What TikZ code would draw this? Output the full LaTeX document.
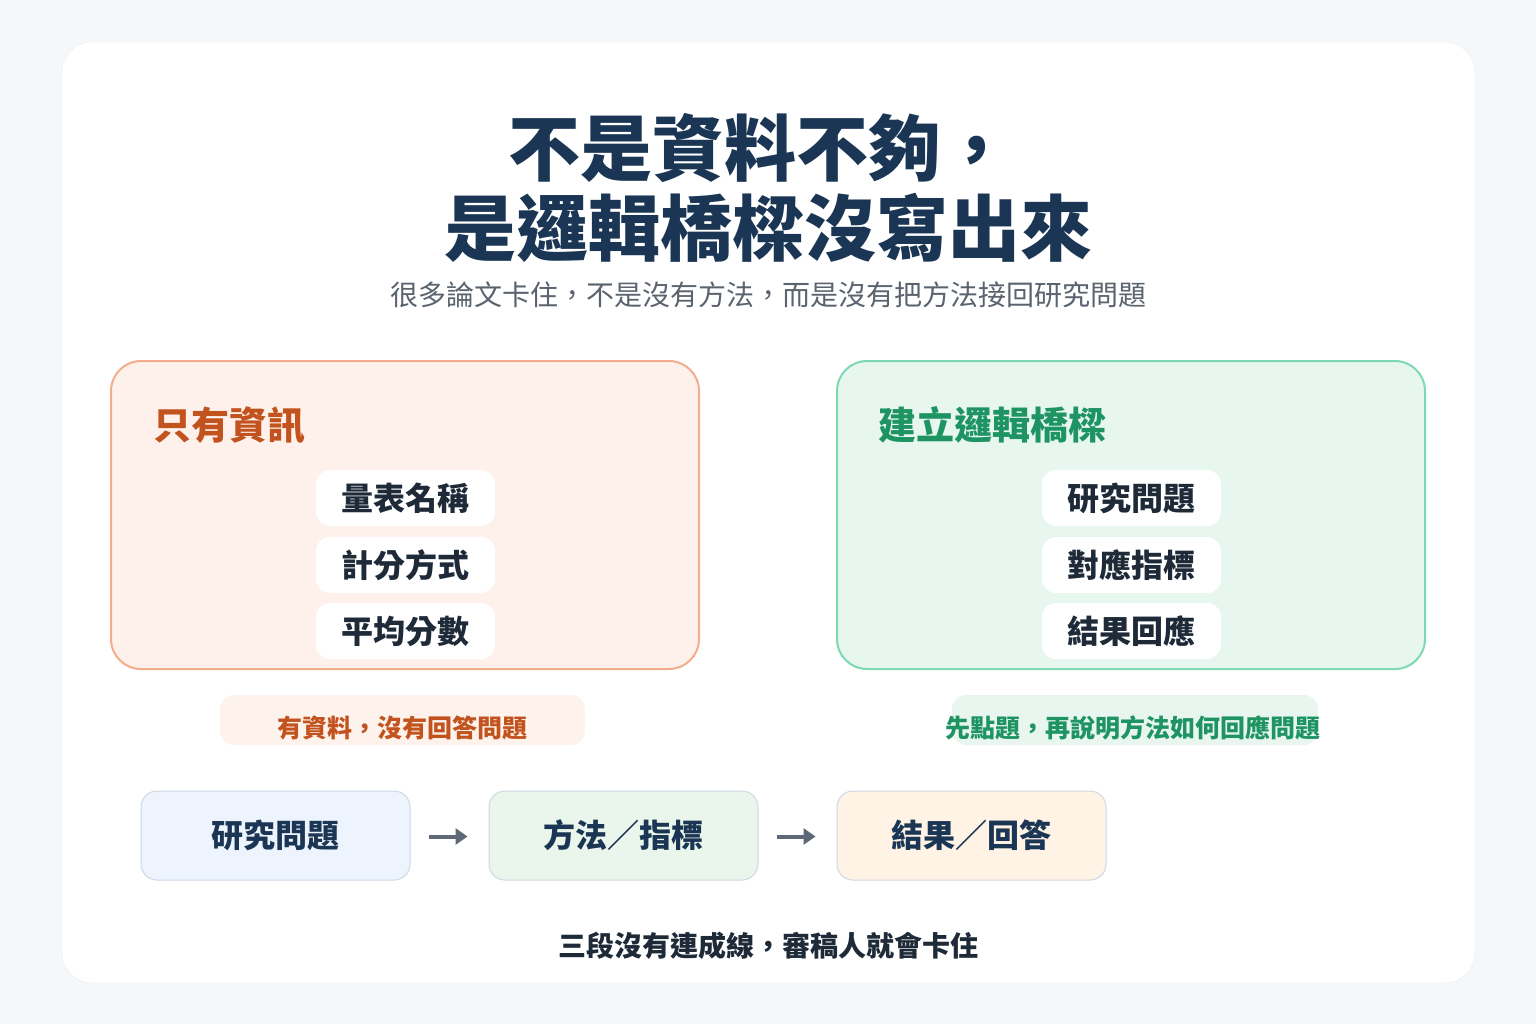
\documentclass[tikz,border=0pt]{standalone}
\usepackage{fontspec}
\setmainfont{Noto Sans CJK TC}
\usetikzlibrary{arrows.meta}
\definecolor{bg}{HTML}{F5F8FB}
\definecolor{navy}{HTML}{1B3654}
\definecolor{dark}{HTML}{1E2A38}
\definecolor{grayt}{HTML}{5A636E}
\definecolor{orng}{HTML}{C2531E}
\definecolor{grn}{HTML}{1E9463}
\definecolor{lfill}{HTML}{FEF1EC}
\definecolor{ldraw}{HTML}{F2AE8C}
\definecolor{rfill}{HTML}{E7F6EF}
\definecolor{rdraw}{HTML}{7DD9B3}
\definecolor{llab}{HTML}{FEF3EC}
\definecolor{rlab}{HTML}{E9F6EF}
\definecolor{fa}{HTML}{EDF4FD}
\definecolor{fb}{HTML}{EAF5EC}
\definecolor{fc}{HTML}{FEF3E5}
\definecolor{fbord}{HTML}{CDD8E4}
\definecolor{arrc}{HTML}{5F6876}
\tikzset{
  pill/.style={fill=white,rounded corners=14pt,minimum width=179pt,minimum height=56pt,inner sep=0pt,font=\fontsize{32}{36}\selectfont\bfseries,text=dark},
  flow/.style={draw=fbord,fill=#1,line width=1pt,rounded corners=16pt,minimum width=269pt,minimum height=89pt,inner sep=0pt,font=\fontsize{32}{36}\selectfont\bfseries,text=navy},
  arr/.style={-{Triangle[length=12pt,width=16pt]},line width=4pt,draw=arrc}
}
\begin{document}
\begin{tikzpicture}[x=1pt,y=-1pt]
\fill[bg] (0,0) rectangle (1536,1024);
\useasboundingbox (0,0) rectangle (1536,1024);
\draw[fill=white,draw=black!8,rounded corners=30pt] (62,42) rectangle (1475,983);
\node[font=\fontsize{72}{80}\selectfont\bfseries,text=navy] (t1) at (760,148) {不是資料不夠，};
\node[font=\fontsize{72}{80}\selectfont\bfseries,text=navy] (t2) at (768,228) {是邏輯橋樑沒寫出來};
\node[font=\fontsize{28}{32}\selectfont,text=grayt] (sub) at (768,295) {很多論文卡住，不是沒有方法，而是沒有把方法接回研究問題};
\draw[fill=lfill,draw=ldraw,line width=2pt,rounded corners=30pt] (111,361) rectangle (699,669);
\node[anchor=west,font=\fontsize{38}{42}\selectfont\bfseries,text=orng] (lt) at (150,425) {只有資訊};
\node[pill] (l1) at (405.5,498) {量表名稱};
\node[pill] (l2) at (405.5,565) {計分方式};
\node[pill] (l3) at (405.5,631) {平均分數};
\draw[fill=rfill,draw=rdraw,line width=2pt,rounded corners=30pt] (837,361) rectangle (1425,669);
\node[anchor=west,font=\fontsize{38}{42}\selectfont\bfseries,text=grn] (rt) at (875,425) {建立邏輯橋樑};
\node[pill] (r1) at (1131.5,498) {研究問題};
\node[pill] (r2) at (1131.5,565) {對應指標};
\node[pill] (r3) at (1131.5,631) {結果回應};
\fill[llab,rounded corners=14pt] (220,695) rectangle (585,745);
\node[font=\fontsize{25}{28}\selectfont\bfseries,text=orng] (ll) at (402,728) {有資料，沒有回答問題};
\fill[rlab,rounded corners=14pt] (952,695) rectangle (1318,745);
\node[font=\fontsize{25}{28}\selectfont\bfseries,text=grn] (rl) at (1133,728) {先點題，再說明方法如何回應問題};
\node[flow=fa] (f1) at (275.5,835.5) {研究問題};
\node[flow=fb] (f2) at (623.5,835.5) {方法／指標};
\node[flow=fc] (f3) at (971.5,835.5) {結果／回答};
\draw[arr] ([xshift=18pt,yshift=-1pt]f1.east) -- ([xshift=-21pt,yshift=-1pt]f2.west);
\draw[arr] ([xshift=18pt,yshift=-1pt]f2.east) -- ([xshift=-21pt,yshift=-1pt]f3.west);
\node[font=\fontsize{28}{32}\selectfont\bfseries,text=dark] (ft) at (768,946) {三段沒有連成線，審稿人就會卡住};
\end{tikzpicture}
\end{document}
